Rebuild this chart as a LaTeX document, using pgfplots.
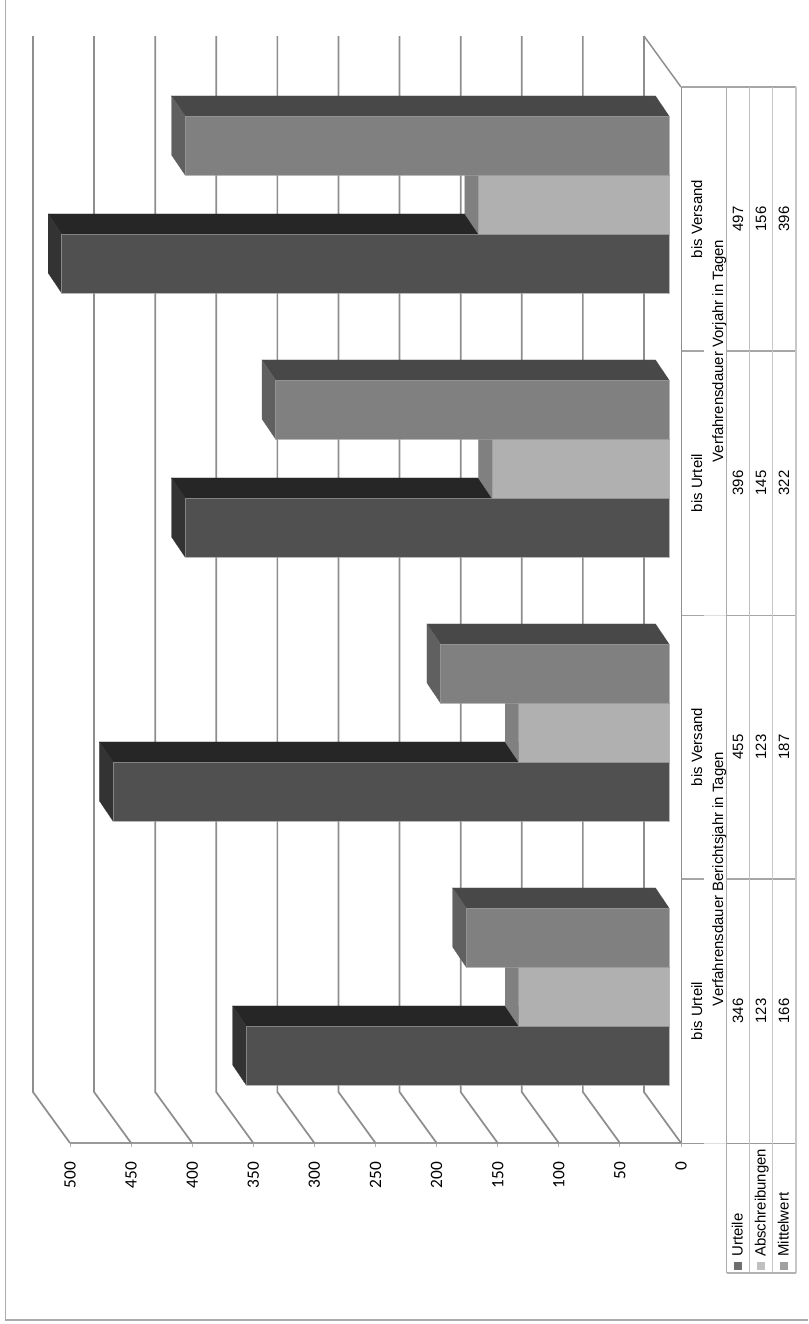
\documentclass[border=0pt]{standalone}
\usepackage{pgfplots}
\pgfplotsset{compat=1.18}
\usepackage{fontspec}
\setmainfont{Liberation Sans}
\newfontfamily\tickfont{Carlito}
\definecolor{gridc}{HTML}{8E8E8E}
\definecolor{edgec}{HTML}{9A9A9A}
\definecolor{frontA}{HTML}{505050}
\definecolor{topA}{HTML}{262626}
\definecolor{endA}{HTML}{333333}
\definecolor{frontB}{HTML}{B0B0B0}
\definecolor{topB}{HTML}{808080}
\definecolor{endB}{HTML}{808080}
\definecolor{frontC}{HTML}{808080}
\definecolor{topC}{HTML}{484848}
\definecolor{endC}{HTML}{606060}
\definecolor{keyA}{HTML}{6E6E6E}
\definecolor{keyB}{HTML}{C0C0C0}
\definecolor{keyC}{HTML}{A0A0A0}

% page position in pixels, measured from the top left corner
\def\PX#1#2{({#1*0.75pt},{(1324-#2)*0.75pt})}

% one block: value, lower and upper edge on the category axis, series letter
\newcommand\solidbar[4]{%
  \pgfmathsetmacro\xa{9.82}%
  \pgfmathsetmacro\xb{#1+9.82}%
  \pgfmathsetmacro\xc{#1+9.82+11.05}%
  \pgfmathsetmacro\xd{9.82+11.05}%
  \pgfmathsetmacro\yu{#3+0.0758}%
  \pgfmathsetmacro\yl{#2+0.0758}%
  \addplot[fill=top#4,draw=top#4,line width=0.2pt] coordinates {(\xa,#3) (\xb,#3) (\xc,\yu) (\xd,\yu)} -- cycle;
  \addplot[fill=end#4,draw=end#4,line width=0.2pt] coordinates {(\xb,#2) (\xb,#3) (\xc,\yu) (\xc,\yl)} -- cycle;
  \addplot[fill=front#4,draw=edgec,draw opacity=0.7,line width=0.3pt] coordinates {(\xa,#2) (\xb,#2) (\xb,#3) (\xa,#3)} -- cycle;
}

% gridline of one axis value: along the side wall, then along the back wall
\newcommand\wallline[1]{%
  \pgfmathsetmacro\xw{#1+30.3}%
  \addplot[gridc,line width=1.3pt,line join=round] coordinates {(#1,0) (\xw,0.1932) (\xw,4.193)};
}

\newcommand\cell[3]{\node[rotate=90,anchor=base,inner sep=0pt,font=\fontsize{11.2pt}{13pt}\selectfont] at \PX{#1}{#2} {#3};}

\begin{document}
\begin{tikzpicture}
\useasboundingbox (0,0) rectangle (606pt,993pt);

% outer frame, open at the top and on the right
\draw[color=black!33,line width=0.9pt] \PX{5.5}{0} -- \PX{5.5}{1320} -- \PX{808}{1320};

\begin{axis}[
  at={(52.5pt,135.75pt)},
  anchor=south west,
  scale only axis,
  width=458.25pt,
  height=792pt,
  x dir=reverse,
  xmin=0, xmax=500,
  ymin=0, ymax=4,
  clip=false,
  axis x line*=bottom,
  axis y line=none,
  xtick={0,50,...,500},
  ytick=\empty,
  tick align=outside,
  major tick length=3pt,
  every tick/.style={draw=black!30,line width=0.7pt},
  x axis line style={draw=gridc!90,line width=1.2pt},
  /pgf/number format/assume math mode=true,
  xticklabel style={yshift=-11pt,rotate=90,anchor=east,inner sep=0pt,
    font=\tickfont\fontsize{13pt}{15pt}\selectfont},
]
% side and back walls
\wallline{50}\wallline{100}\wallline{150}\wallline{200}\wallline{250}
\wallline{300}\wallline{350}\wallline{400}\wallline{450}\wallline{500}
\wallline{0}
\addplot[gridc,line width=1.1pt] coordinates {(30.3,4.193) (0,4)};

% bis Urteil, Berichtsjahr
\solidbar{346}{0.2197}{0.4432}{A}
\solidbar{123}{0.4432}{0.6667}{B}
\solidbar{166}{0.6667}{0.8902}{C}
% bis Versand, Berichtsjahr
\solidbar{455}{1.2197}{1.4432}{A}
\solidbar{123}{1.4432}{1.6667}{B}
\solidbar{187}{1.6667}{1.8902}{C}
% bis Urteil, Vorjahr
\solidbar{396}{2.2197}{2.4432}{A}
\solidbar{145}{2.4432}{2.6667}{B}
\solidbar{322}{2.6667}{2.8902}{C}
% bis Versand, Vorjahr
\solidbar{497}{3.2197}{3.4432}{A}
\solidbar{156}{3.4432}{3.6667}{B}
\solidbar{396}{3.6667}{3.8902}{C}
\end{axis}

% data table below the category axis
\draw[gridc,line width=1.2pt] \PX{681.5}{87} -- \PX{681.5}{1143.5};
\draw[color=black!35,line width=0.9pt] \PX{681.5}{87} -- \PX{796}{87};
\draw[color=black!35,line width=0.9pt] \PX{681.5}{351} -- \PX{704}{351} \PX{727}{351} -- \PX{796}{351};
\draw[color=black!35,line width=0.9pt] \PX{681.5}{615.5} -- \PX{704}{615.5} \PX{727}{615.5} -- \PX{796}{615.5};
\draw[color=black!12,line width=0.9pt] \PX{704}{615.5} -- \PX{727}{615.5};
\draw[color=black!35,line width=0.9pt] \PX{681.5}{879} -- \PX{704}{879} \PX{727}{879} -- \PX{796}{879};
\draw[color=black!12,line width=0.9pt] \PX{704}{1143.5} -- \PX{727}{1143.5};
\draw[gridc!90,line width=1pt] \PX{681.5}{1143.5} -- \PX{704}{1143.5} \PX{727}{1143.5} -- \PX{796}{1143.5};
\draw[color=black!33,line width=0.9pt] \PX{726.8}{87} -- \PX{726.8}{1273};
\draw[color=black!25,line width=0.9pt] \PX{749.8}{87} -- \PX{749.8}{1273};
\draw[color=black!22,line width=0.9pt] \PX{772.8}{87} -- \PX{772.8}{1273};
\draw[color=black!22,line width=1.2pt] \PX{796}{87} -- \PX{796}{1273};
\draw[color=black!30,line width=0.9pt] \PX{726.8}{1273} -- \PX{796}{1273};

% category labels
\cell{702}{1011}{bis Urteil}
\cell{702}{747}{bis Versand}
\cell{702}{483}{bis Urteil}
\cell{702}{219}{bis Versand}
\cell{723}{879}{Verfahrensdauer Berichtsjahr in Tagen}
\cell{723}{351}{Verfahrensdauer Vorjahr in Tagen}

% table values
\cell{743}{1011}{346}\cell{766}{1011}{123}\cell{789}{1011}{166}
\cell{743}{747}{455}\cell{766}{747}{123}\cell{789}{747}{187}
\cell{743}{483}{396}\cell{766}{483}{145}\cell{789}{483}{322}
\cell{743}{219}{497}\cell{766}{219}{156}\cell{789}{219}{396}

% legend keys and names in the table head
\fill[keyA] \PX{734}{1262} rectangle \PX{742}{1270};
\fill[keyB] \PX{757}{1262} rectangle \PX{765}{1270};
\fill[keyC] \PX{780}{1262} rectangle \PX{788}{1270};
\node[rotate=90,anchor=base west,inner sep=0pt,font=\fontsize{11.2pt}{13pt}\selectfont] at \PX{742.5}{1257} {Urteile};
\node[rotate=90,anchor=base west,inner sep=0pt,font=\fontsize{11.2pt}{13pt}\selectfont] at \PX{765.5}{1257} {Abschreibungen};
\node[rotate=90,anchor=base west,inner sep=0pt,font=\fontsize{11.2pt}{13pt}\selectfont] at \PX{788.5}{1257} {Mittelwert};
\end{tikzpicture}
\end{document}
